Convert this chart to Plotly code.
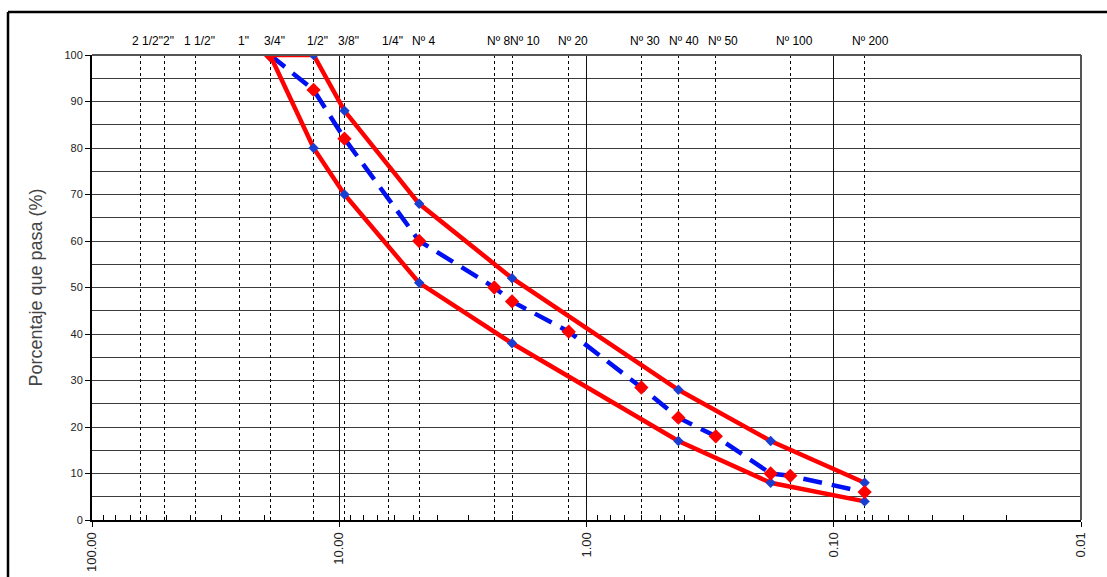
import math
import plotly.graph_objects as go

# Sieve labels and openings (mm) shown along the top axis
sieve_labels = ['2 1/2"', '2"', '1 1/2"', '1"', '3/4"', '1/2"', '3/8"', '1/4"', 'Nº 4',
                'Nº 8', 'Nº 10', 'Nº 20', 'Nº 30', 'Nº 40', 'Nº 50', 'Nº 100', 'Nº 200']
sieve_mm = [63.5, 50.8, 38.1, 25.4, 19.05, 12.7, 9.525, 6.35, 4.75,
            2.36, 2.0, 1.18, 0.6, 0.425, 0.3, 0.15, 0.075]

# Specification limits
lim_mm = [19.05, 12.7, 9.525, 4.75, 2.0, 0.425, 0.18, 0.075]
upper_pass = [100, 100, 88, 68, 52, 28, 17, 8]
lower_pass = [100, 80, 70, 51, 38, 17, 8, 4]

# Gradation curve
grad_mm = [19.05, 12.7, 9.525, 4.75, 2.36, 2.0, 1.18, 0.6, 0.425, 0.3, 0.18, 0.15, 0.075]
grad_pass = [100, 92.5, 82, 60, 50, 47, 40.5, 28.5, 22, 18, 10, 9.5, 6]

# Bottom axis ticks
bottom_vals = [100, 10, 1, 0.1, 0.01]
bottom_text = ["100.00", "10.00", "1.00", "0.10", "0.01"]
minor_vals = [m * 10 ** k for k in range(-2, 2) for m in range(2, 10)]

# label placement tweaks (pixels) for the crowded sieve labels
LABEL_SHIFT_DEFAULT = 4
LABEL_SHIFT = {'2 1/2"': 7, 'Nº 10': 13, 'Nº 40': 6, 'Nº 50': 7, 'Nº 200': 6}

FONT = "Liberation Sans, Arial"
GRID = "#3a3a3a"

fig = go.Figure()

# invisible trace so the bottom (decade) axis is drawn
fig.add_trace(go.Scatter(
    x=bottom_vals, y=[0] * len(bottom_vals), xaxis="x", yaxis="y", mode="markers",
    marker=dict(opacity=0), hoverinfo="skip"))

fig.add_trace(go.Scatter(
    x=grad_mm, y=grad_pass, xaxis="x2", yaxis="y", mode="lines",
    line=dict(color="#0010F0", width=4.5, dash="19px,10px"), hoverinfo="skip"))

for ys in (upper_pass, lower_pass):
    fig.add_trace(go.Scatter(
        x=lim_mm, y=ys, xaxis="x2", yaxis="y", mode="lines+markers",
        line=dict(color="#FF0000", width=4.5),
        marker=dict(symbol="diamond", size=8, color="#1a3fd0")))

fig.add_trace(go.Scatter(
    x=grad_mm, y=grad_pass, xaxis="x2", yaxis="y", mode="markers",
    marker=dict(symbol="diamond", size=11, color="#FF0000")))

for lab, mm in zip(sieve_labels, sieve_mm):
    fig.add_annotation(
        x=math.log10(mm), y=1, xref="x2", yref="paper",
        text=lab, showarrow=False, xanchor="center", yanchor="bottom",
        xshift=LABEL_SHIFT.get(lab, LABEL_SHIFT_DEFAULT), yshift=5,
        font=dict(family=FONT, size=12, color="black"))

fig.update_layout(
    width=1107, height=577,
    margin=dict(l=92, r=26, t=55, b=57),
    paper_bgcolor="white", plot_bgcolor="white",
    showlegend=False,
    xaxis=dict(
        type="log", range=[2, -2], automargin=False,
        tickmode="array", tickvals=bottom_vals, ticktext=bottom_text,
        tickangle=-90, ticks="outside", ticklen=5, tickcolor="black",
        tickfont=dict(family=FONT, size=13, color="#222"),
        showgrid=True, gridcolor="#111", gridwidth=1.3,
        showline=True, linecolor="black", linewidth=2, mirror=False,
        minor=dict(tickmode="array", tickvals=minor_vals, ticks="inside",
                   ticklen=5, tickcolor="black", showgrid=False),
        zeroline=False,
    ),
    xaxis2=dict(
        type="log", range=[2, -2], overlaying="x", side="top", anchor="y",
        automargin=False,
        tickmode="array", tickvals=sieve_mm, showticklabels=False, ticks="",
        showgrid=True, gridcolor="black", gridwidth=1, griddash="3px,3px",
        showline=False, zeroline=False,
    ),
    yaxis=dict(
        range=[0, 100], tick0=0, dtick=10, automargin=False,
        ticks="outside", ticklen=5, tickcolor="black",
        tickfont=dict(family=FONT, size=11, color="#222"),
        showgrid=True, gridcolor=GRID, gridwidth=1.3,
        minor=dict(dtick=5, showgrid=True, gridcolor=GRID, gridwidth=1.3, ticks=""),
        showline=True, linecolor="black", linewidth=2, zeroline=False,
        title=dict(text="Porcentaje que pasa (%)", standoff=17,
                   font=dict(family=FONT, size=18, color="#444")),
    ),
    shapes=[
        dict(type="line", xref="paper", yref="paper", x0=1, x1=1, y0=0, y1=1,
             line=dict(color="#555", width=2)),
        dict(type="line", xref="paper", yref="paper", x0=0, x1=1, y0=1, y1=1,
             line=dict(color="#555", width=2)),
    ],
)

# Outer frame (top and left edges) of the picture
fig.add_shape(type="line", xref="paper", yref="paper",
              x0=-84 / 989, x1=1.05, y0=(577 - 57 - 12) / 465, y1=(577 - 57 - 12) / 465,
              line=dict(color="black", width=2.5))
fig.add_shape(type="line", xref="paper", yref="paper",
              x0=-84 / 989, x1=-84 / 989, y0=-0.2, y1=(577 - 57 - 12) / 465,
              line=dict(color="black", width=2.5))

fig.write_html("out.html")
